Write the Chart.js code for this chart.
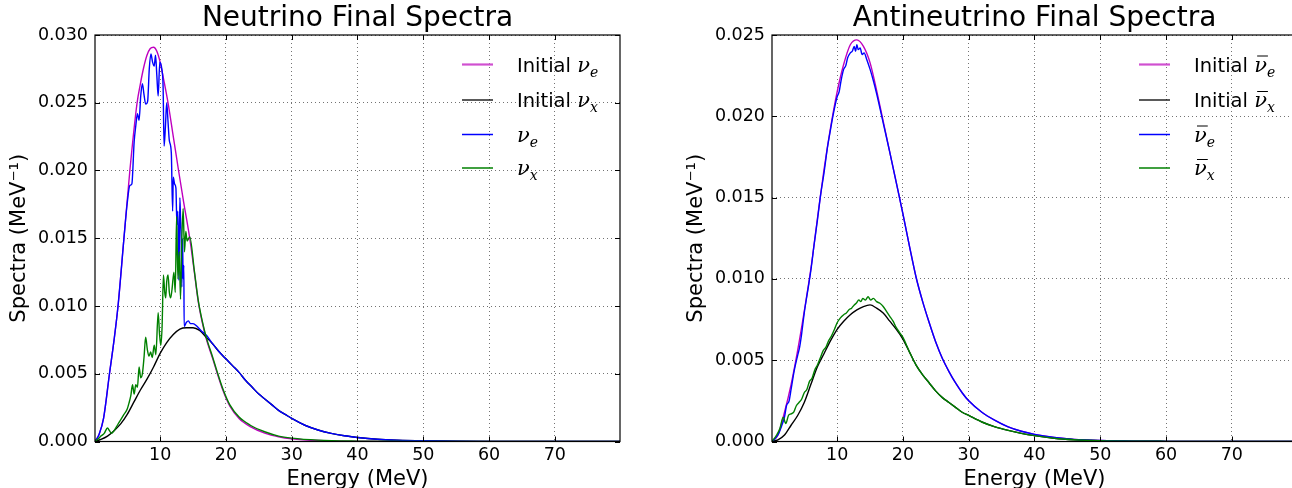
<!DOCTYPE html>
<html>
<head>
<meta charset="utf-8">
<script src="https://cdn.jsdelivr.net/npm/chart.js@4"></script>
<style>
  html, body { margin: 0; padding: 0; background: #fff; overflow: hidden; width: 1292px; height: 488px; }
  .box { position: absolute; top: 0; width: 640px; height: 500px; }
  #left { left: 0; }
  #right { left: 677px; }
</style>
</head>
<body>
<div class="box" id="left"><canvas id="nu" width="640" height="500"></canvas></div>
<div class="box" id="right"><canvas id="anu" width="640" height="500"></canvas></div>
<script>
// tick labels
const energyTicks = [10, 20, 30, 40, 50, 60, 70]
const nuSpectraTicks = [0, 0.005, 0.01, 0.015, 0.02, 0.025, 0.03]
const anuSpectraTicks = [0, 0.005, 0.01, 0.015, 0.02, 0.025]

// --- neutrinos (MeV and MeV^-1) ---
const nuInitEEnergy = [0.1, 0.7, 1.4, 2.3, 3.0, 3.6, 4.5, 5.4, 6.5, 7.0, 7.5, 8.0, 8.5, 9.0, 9.5, 10.0, 10.5, 11.2, 12.0, 12.8, 13.6, 14.5, 15.2, 15.8, 16.4, 17.0, 18.0, 18.7, 19.6, 20.6, 22.0, 23.7, 26.0, 28.0, 30.0, 34.0, 40.0, 50.0, 79.9]
const nuInitE = [0, 0.0005, 0.0017, 0.0050, 0.0075, 0.0100, 0.0150, 0.0200, 0.0250, 0.0264, 0.0276, 0.0285, 0.0290, 0.0291, 0.0288, 0.0280, 0.0268, 0.0250, 0.0225, 0.0200, 0.0176, 0.0150, 0.0125, 0.0103, 0.0088, 0.0076, 0.0061, 0.0050, 0.0037, 0.0026, 0.0017, 0.0011, 0.0006, 0.00035, 0.0002, 0.00007, 0.00002, 0, 0]

const nuInitXEnergy = [0.1, 1, 2, 3, 4, 5, 6, 7, 8, 9, 10, 11, 12, 13, 14, 15, 16, 17, 18, 19, 20, 21, 22, 23, 24, 25, 26, 27, 28, 29, 30, 32, 34, 36, 38, 40, 43, 46, 50, 55, 60, 70, 79.9]
const nuInitX = [0, 0.00015, 0.0004, 0.0008, 0.0013, 0.0020, 0.0029, 0.0038, 0.0046, 0.0055, 0.0065, 0.0073, 0.0079, 0.0083, 0.0084, 0.0084, 0.0082, 0.0077, 0.0072, 0.0066, 0.0061, 0.0056, 0.0051, 0.0045, 0.0040, 0.0035, 0.0031, 0.0027, 0.0023, 0.0020, 0.0017, 0.0012, 0.00085, 0.0006, 0.00042, 0.0003, 0.00017, 0.0001, 0.00005, 0.00002, 0.00001, 0, 0]

const nuFinalEEnergy = [0.1, 0.7, 1.4, 2.3, 3.0, 3.6, 4.5, 5.0, 5.4, 5.7, 6.05, 6.3, 6.55, 6.8, 7.05, 7.3, 7.55, 7.8, 8.1, 8.35, 8.6, 8.85, 9.1, 9.3, 9.5, 9.7, 9.95, 10.25, 10.45, 10.6, 10.8, 11.0, 11.2, 11.4, 11.7, 11.9, 12.0, 12.2, 12.4, 12.55, 12.7, 12.85, 13.0, 13.1, 13.2, 13.3, 13.4, 13.5, 13.6, 13.65, 14.0, 14.3, 14.6, 15.0, 15.6, 16.2, 17.1, 18.0, 19.0, 20.0, 21, 22, 23, 24, 25, 26, 27, 28, 29, 30, 32, 34, 36, 38, 40, 43, 46, 50, 55, 60, 70, 79.9]
const nuFinalE = [0, 0.0005, 0.0017, 0.0050, 0.0075, 0.0100, 0.0150, 0.0176, 0.0189, 0.0190, 0.0221, 0.0233, 0.0242, 0.0237, 0.0255, 0.0264, 0.0256, 0.0249, 0.0251, 0.0275, 0.0286, 0.0280, 0.0277, 0.0285, 0.0270, 0.0255, 0.0280, 0.0275, 0.0262, 0.0218, 0.0232, 0.0250, 0.0236, 0.0222, 0.0213, 0.0170, 0.0195, 0.0190, 0.0187, 0.0160, 0.0170, 0.0119, 0.0180, 0.0165, 0.0150, 0.0114, 0.0150, 0.0120, 0.0130, 0.0085, 0.0088, 0.0089, 0.0087, 0.0087, 0.0085, 0.0082, 0.0078, 0.0072, 0.0066, 0.0061, 0.0056, 0.0051, 0.0045, 0.0040, 0.0035, 0.0031, 0.0027, 0.0023, 0.0020, 0.0017, 0.0012, 0.00085, 0.0006, 0.00042, 0.0003, 0.00017, 0.0001, 0.00005, 0.00002, 0.00001, 0, 0]

const nuFinalXEnergy = [0.1, 0.6, 1.0, 1.5, 2.0, 2.3, 2.6, 3.0, 3.5, 4.0, 4.5, 5.0, 5.3, 5.55, 5.8, 6.05, 6.3, 6.55, 6.8, 7.05, 7.3, 7.55, 7.8, 8.05, 8.3, 8.55, 8.8, 9.1, 9.35, 9.7, 9.9, 10.1, 10.3, 10.5, 10.7, 10.85, 11.0, 11.2, 11.4, 11.6, 11.8, 12.1, 12.3, 12.5, 12.7, 12.9, 13.1, 13.3, 13.5, 13.7, 13.9, 14.1, 14.5, 15.2, 15.8, 16.4, 17.0, 18.0, 18.7, 19.6, 20.6, 22.0, 23.7, 26.0, 28.0, 30.0, 34.0, 40.0, 50.0, 79.9]
const nuFinalX = [0, 0.0002, 0.0004, 0.0006, 0.0010, 0.0008, 0.0006, 0.0008, 0.0012, 0.0016, 0.0020, 0.0024, 0.0029, 0.0034, 0.0042, 0.0035, 0.0042, 0.0040, 0.0055, 0.0047, 0.0050, 0.0062, 0.0077, 0.0068, 0.0063, 0.0066, 0.0062, 0.0071, 0.0064, 0.0095, 0.0080, 0.0071, 0.0085, 0.0123, 0.0110, 0.0106, 0.0118, 0.0123, 0.0110, 0.0106, 0.0112, 0.0125, 0.0110, 0.0166, 0.0120, 0.0140, 0.0105, 0.0150, 0.0172, 0.0140, 0.0155, 0.0148, 0.0151, 0.0126, 0.0104, 0.0089, 0.0077, 0.0062, 0.0051, 0.0038, 0.0027, 0.0018, 0.0012, 0.0007, 0.0004, 0.00025, 0.0001, 0.00003, 0, 0]

// --- antineutrinos ---
const anuInitEEnergy = [0.1, 1, 2, 3, 4, 5, 6, 7, 8, 9, 10, 11, 12, 13, 14, 15, 16, 17, 18, 19, 20, 21, 22, 23, 24, 25, 26, 27, 28, 29, 30, 32, 34, 36, 38, 40, 43, 46, 50, 55, 60, 70, 79.9]
const anuInitE = [0, 0.0004, 0.0018, 0.0035, 0.0056, 0.0080, 0.0106, 0.0137, 0.0167, 0.0193, 0.0215, 0.0232, 0.0244, 0.0247, 0.0243, 0.0233, 0.0216, 0.0197, 0.0178, 0.0159, 0.0140, 0.0120, 0.0101, 0.0086, 0.0073, 0.0061, 0.0051, 0.0043, 0.0036, 0.0030, 0.0025, 0.0018, 0.0013, 0.0009, 0.00063, 0.00044, 0.00025, 0.00013, 0.00006, 0.00002, 0.00001, 0, 0]

const anuInitXEnergy = [0.1, 1, 2, 3, 4, 5, 6, 7, 8, 9, 10, 11, 12, 13, 14, 15, 16, 17, 18, 19, 20, 21, 22, 23, 24, 25, 26, 27, 28, 29, 30, 32, 34, 36, 38, 40, 43, 46, 50, 55, 60, 70, 79.9]
const anuInitX = [0, 0.0001, 0.0004, 0.0010, 0.0016, 0.0024, 0.0035, 0.0046, 0.0054, 0.0062, 0.0069, 0.0074, 0.0078, 0.0081, 0.0083, 0.0084, 0.0082, 0.0079, 0.0074, 0.0069, 0.0063, 0.0055, 0.0047, 0.0041, 0.0036, 0.0031, 0.0027, 0.0024, 0.0021, 0.0018, 0.0016, 0.0012, 0.0009, 0.00068, 0.0005, 0.00036, 0.0002, 0.00011, 0.00005, 0.00002, 0.00001, 0, 0]

const anuFinalEEnergy = [0.1, 1.0, 1.6, 2.0, 2.3, 2.7, 3.0, 3.5, 4.0, 4.3, 4.6, 5.0, 5.5, 6.0, 6.5, 7.0, 7.5, 8.0, 8.5, 9.0, 9.5, 10.0, 10.3, 10.6, 11.0, 11.3, 11.6, 12.0, 12.3, 12.6, 12.8, 13.0, 13.2, 13.5, 13.8, 14.1, 14.5, 15.0, 15.5, 16.0, 17, 18, 19, 20, 21, 22, 23, 24, 25, 26, 27, 28, 29, 30, 32, 34, 36, 38, 40, 43, 46, 50, 55, 60, 70, 79.9]
const anuFinalE = [0, 0.0004, 0.0010, 0.0015, 0.0022, 0.0025, 0.0032, 0.0044, 0.0053, 0.0058, 0.0066, 0.0079, 0.0092, 0.0105, 0.0121, 0.0136, 0.0152, 0.0165, 0.0180, 0.0192, 0.0203, 0.0212, 0.0215, 0.0222, 0.0229, 0.0231, 0.0236, 0.0239, 0.0240, 0.0243, 0.0240, 0.0244, 0.0241, 0.0242, 0.0238, 0.0239, 0.0235, 0.0229, 0.0222, 0.0214, 0.0196, 0.0178, 0.0159, 0.0140, 0.0120, 0.0101, 0.0086, 0.0073, 0.0061, 0.0051, 0.0043, 0.0036, 0.0030, 0.0025, 0.0018, 0.0013, 0.0009, 0.00063, 0.00044, 0.00025, 0.00013, 0.00006, 0.00002, 0.00001, 0, 0]

const anuFinalXEnergy = [0.1, 0.8, 1.3, 1.8, 2.2, 2.6, 3.0, 3.4, 3.8, 4.2, 4.6, 5.0, 5.4, 5.8, 6.2, 6.6, 7.0, 7.4, 7.9, 8.3, 8.7, 9.15, 9.6, 10.0, 10.5, 11.0, 11.4, 11.8, 12.2, 12.6, 12.9, 13.3, 13.6, 13.9, 14.3, 14.7, 15.1, 15.5, 16.0, 16.5, 17.0, 17.5, 18.0, 18.5, 19.0, 19.5, 20.0, 21, 22, 23, 24, 25, 26, 27, 28, 29, 30, 32, 34, 36, 38, 40, 43, 46, 50, 55, 60, 70, 79.9]
const anuFinalX = [0, 0.0004, 0.0008, 0.0015, 0.0011, 0.0016, 0.0017, 0.0018, 0.0022, 0.0024, 0.0026, 0.0030, 0.0032, 0.0037, 0.0039, 0.0044, 0.0047, 0.0051, 0.0056, 0.0058, 0.0062, 0.0065, 0.0069, 0.0073, 0.0076, 0.0078, 0.0079, 0.0081, 0.0082, 0.0084, 0.0085, 0.0087, 0.0086, 0.0088, 0.0087, 0.0089, 0.0087, 0.0088, 0.0086, 0.0085, 0.0083, 0.0080, 0.0077, 0.0074, 0.0070, 0.0067, 0.0064, 0.0055, 0.0047, 0.0041, 0.0036, 0.0031, 0.0027, 0.0024, 0.0021, 0.0018, 0.0016, 0.0012, 0.0009, 0.00068, 0.0005, 0.00036, 0.0002, 0.00011, 0.00005, 0.00002, 0.00001, 0, 0]

const SANS = '"DejaVu Sans", sans-serif'
const MATH = '"DejaVu Serif", serif'
const MAGENTA = '#bf00bf'
const BLUE = '#0000ff'
const GREEN = '#008000'
const BLACK = '#000000'

const pts = (xs, ys) => xs.map((x, i) => ({ x, y: ys[i] }))

// matplotlib-like frame with inward ticks on all four sides
const framePlugin = {
  id: 'frame',
  afterDatasetsDraw(chart) {
    const { ctx, chartArea: a, scales } = chart
    ctx.save()
    ctx.strokeStyle = '#000'
    ctx.lineWidth = 1.2
    ctx.strokeRect(a.left, a.top, a.width, a.height)
    ctx.beginPath()
    scales.x.ticks.forEach((t) => {
      const px = Math.round(scales.x.getPixelForValue(t.value)) + 0.5
      ctx.moveTo(px, a.bottom); ctx.lineTo(px, a.bottom - 5)
      ctx.moveTo(px, a.top); ctx.lineTo(px, a.top + 5)
    })
    scales.y.ticks.forEach((t) => {
      const py = Math.round(scales.y.getPixelForValue(t.value)) + 0.5
      ctx.moveTo(a.left, py); ctx.lineTo(a.left + 5, py)
      ctx.moveTo(a.right, py); ctx.lineTo(a.right - 5, py)
    })
    ctx.lineWidth = 1
    ctx.stroke()
    ctx.restore()
  },
}

// legend drawn inside the axes, upper right, with math-style labels
const legendPlugin = {
  id: 'mplLegend',
  afterDraw(chart, args, opts) {
    const { ctx, chartArea: a } = chart
    ctx.save()
    opts.items.forEach((it, i) => {
      const y = a.top + opts.rows[i]
      ctx.strokeStyle = it.color
      ctx.lineWidth = it.width
      ctx.beginPath()
      ctx.moveTo(a.right - 158, y)
      ctx.lineTo(a.right - 127, y)
      ctx.stroke()

      let x = a.right - 103
      const base = y + 7
      ctx.fillStyle = '#000'
      ctx.textBaseline = 'alphabetic'
      ctx.textAlign = 'left'
      if (it.prefix) {
        ctx.font = '19.5px ' + SANS
        ctx.fillText(it.prefix, x, base)
        x += ctx.measureText(it.prefix).width
      }
      ctx.font = 'italic 21px ' + MATH
      ctx.fillText('ν', x, base)
      const w = ctx.measureText('ν').width
      if (it.bar) {
        ctx.strokeStyle = '#000'
        ctx.lineWidth = 1
        ctx.beginPath()
        ctx.moveTo(x + 3, base - 15.5)
        ctx.lineTo(x + w + 1, base - 15.5)
        ctx.stroke()
      }
      x += w
      ctx.font = 'italic 14px ' + MATH
      ctx.fillText(it.sub, x, base + 5)
    })
    ctx.restore()
  },
}

function spectraChart(canvas, title, yTicks, series, legendItems) {
  return new Chart(canvas, {
    type: 'line',
    data: {
      datasets: series.map((s) => ({
        label: s.label,
        data: s.data,
        borderColor: s.color,
        borderWidth: 1.4,
        pointRadius: 0,
        cubicInterpolationMode: 'monotone',
        fill: false,
        order: s.order,
      })),
    },
    options: {
      responsive: false,
      animation: false,
      layout: { padding: { left: 0, right: 20, top: 3, bottom: 0 } },
      plugins: {
        legend: { display: false },
        tooltip: { enabled: false },
        title: {
          display: true,
          text: title,
          fullSize: false,
          color: '#000',
          font: { family: SANS, size: 28, weight: 'normal', lineHeight: 1.1 },
          padding: { top: 0, bottom: 1.2 },
        },
        mplLegend: { items: legendItems, rows: [29.5, 65, 99.5, 133] },
      },
      scales: {
        x: {
          type: 'linear',
          min: 0.1,
          max: 79.9,
          afterBuildTicks: (s) => { s.ticks = energyTicks.map((v) => ({ value: v })) },
          afterFit: (s) => { s.height = 58.5 },
          grid: { color: 'rgba(0,0,0,0.55)', lineWidth: 1, drawTicks: false },
          border: { display: false, dash: [1, 3] },
          ticks: { color: '#000', font: { family: SANS, size: 17.5 }, padding: 3, maxRotation: 0 },
          title: {
            display: true,
            text: 'Energy (MeV)',
            color: '#000',
            font: { family: SANS, size: 21 },
            padding: { top: 0, bottom: 7.6 },
          },
        },
        y: {
          type: 'linear',
          min: 0,
          max: yTicks[yTicks.length - 1],
          afterBuildTicks: (s) => { s.ticks = yTicks.map((v) => ({ value: v })) },
          afterFit: (s) => { s.width = 95 },
          grid: { color: 'rgba(0,0,0,0.55)', lineWidth: 1, drawTicks: false },
          border: { display: false, dash: [1, 3] },
          ticks: {
            color: '#000',
            font: { family: SANS, size: 17.5 },
            padding: 7,
            callback: (v) => v.toFixed(3),
          },
          title: {
            display: true,
            text: 'Spectra (MeV⁻¹)',
            color: '#000',
            font: { family: SANS, size: 21 },
            padding: { top: 6.5, bottom: 0 },
          },
        },
      },
    },
    plugins: [framePlugin, legendPlugin],
  })
}

spectraChart(
  document.getElementById('nu'),
  'Neutrino Final Spectra',
  nuSpectraTicks,
  [
    { label: 'Initial νe', data: pts(nuInitEEnergy, nuInitE), color: MAGENTA, order: 4 },
    { label: 'Initial νx', data: pts(nuInitXEnergy, nuInitX), color: BLACK, order: 3 },
    { label: 'νe', data: pts(nuFinalEEnergy, nuFinalE), color: BLUE, order: 2 },
    { label: 'νx', data: pts(nuFinalXEnergy, nuFinalX), color: GREEN, order: 1 },
  ],
  [
    { prefix: 'Initial ', sub: 'e', color: '#d050d0', width: 2.2 },
    { prefix: 'Initial ', sub: 'x', color: BLACK, width: 1.3 },
    { prefix: '', sub: 'e', color: BLUE, width: 1.5 },
    { prefix: '', sub: 'x', color: GREEN, width: 1.5 },
  ]
)

spectraChart(
  document.getElementById('anu'),
  'Antineutrino Final Spectra',
  anuSpectraTicks,
  [
    { label: 'Initial ν̄e', data: pts(anuInitEEnergy, anuInitE), color: MAGENTA, order: 4 },
    { label: 'Initial ν̄x', data: pts(anuInitXEnergy, anuInitX), color: BLACK, order: 3 },
    { label: 'ν̄e', data: pts(anuFinalEEnergy, anuFinalE), color: BLUE, order: 2 },
    { label: 'ν̄x', data: pts(anuFinalXEnergy, anuFinalX), color: GREEN, order: 1 },
  ],
  [
    { prefix: 'Initial ', sub: 'e', bar: true, color: '#d050d0', width: 2.2 },
    { prefix: 'Initial ', sub: 'x', bar: true, color: BLACK, width: 1.3 },
    { prefix: '', sub: 'e', bar: true, color: BLUE, width: 1.5 },
    { prefix: '', sub: 'x', bar: true, color: GREEN, width: 1.5 },
  ]
)
</script>
</body>
</html>
